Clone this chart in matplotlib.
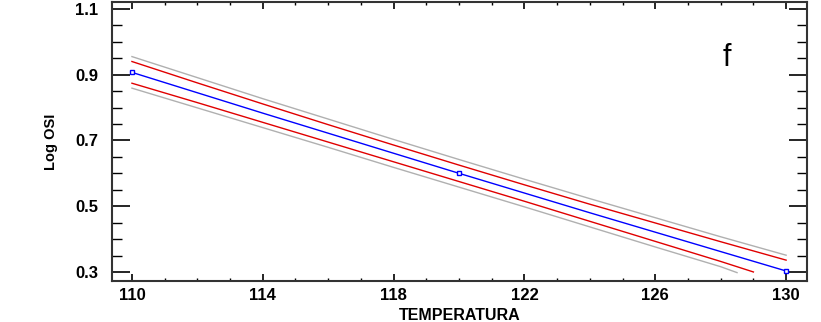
import matplotlib
matplotlib.use("Agg")
import matplotlib.pyplot as plt
from matplotlib.ticker import MultipleLocator

plt.rcParams['font.family'] = ['Liberation Sans', 'DejaVu Sans']

# fitted line and limits
x_fit = [110, 112, 114, 116, 118, 120, 122, 124, 126, 128, 130]
y_fit = [0.907, 0.845, 0.783, 0.722, 0.661, 0.600, 0.540, 0.480, 0.421, 0.362, 0.303]
y_conf_hi = [0.940, 0.875, 0.811, 0.748, 0.686, 0.625, 0.565, 0.506, 0.449, 0.392, 0.336]
x_conf_lo = [110, 112, 114, 116, 118, 120, 122, 124, 126, 128, 129]
y_conf_lo = [0.874, 0.815, 0.755, 0.695, 0.635, 0.575, 0.515, 0.454, 0.393, 0.332, 0.300]
y_pred_hi = [0.955, 0.891, 0.827, 0.765, 0.703, 0.642, 0.582, 0.523, 0.465, 0.407, 0.351]
x_pred_lo = [110, 112, 114, 116, 118, 120, 122, 124, 126, 128, 128.5]
y_pred_lo = [0.859, 0.799, 0.739, 0.679, 0.618, 0.558, 0.498, 0.437, 0.376, 0.316, 0.298]
x_obs = [110, 120, 130]
y_obs = [0.907, 0.600, 0.303]

fig = plt.figure(figsize=(8.21, 3.22), dpi=100)
ax = fig.add_axes([0.1364, 0.1273, 0.8466, 0.8665])

ax.plot(x_fit, y_pred_hi, color='#b0b0b0', lw=1)
ax.plot(x_pred_lo, y_pred_lo, color='#b0b0b0', lw=1)
ax.plot(x_fit, y_conf_hi, color='#e00000', lw=1)
ax.plot(x_conf_lo, y_conf_lo, color='#e00000', lw=1)
ax.plot(x_fit, y_fit, color='#0000ff', lw=1)
ax.plot(x_obs, y_obs, ls='none', marker='s', ms=3.5, mfc='white', mec='#0000ff', mew=1)

ax.set_xlim(109.39, 130.64)
ax.set_ylim(0.2725, 1.121)
ax.xaxis.set_minor_locator(MultipleLocator(1))
ax.yaxis.set_minor_locator(MultipleLocator(0.05))
ax.set_xticks([110, 114, 118, 122, 126, 130])
ax.set_yticks([0.3, 0.5, 0.7, 0.9, 1.1])
ax.set_yticklabels(['0.3', '0.5', '0.7', '0.9', '1.1'])

ax.tick_params(axis='x', which='major', direction='in', length=5, width=1.2,
               top=True, bottom=True, pad=5, labelsize=12)
ax.tick_params(axis='x', which='minor', direction='in', length=2.5, width=1,
               top=True, bottom=True)
ax.tick_params(axis='y', which='major', direction='in', length=13, width=1.2,
               left=True, right=True, pad=10, labelsize=12)
ax.tick_params(axis='y', which='minor', direction='in', length=7, width=1,
               left=True, right=True)
for lab in ax.get_xticklabels() + ax.get_yticklabels():
    lab.set_fontweight('bold')
for sp in ax.spines.values():
    sp.set_linewidth(1.5)
    sp.set_color('#333333')

ax.set_xlabel('TEMPERATURA', fontweight='bold', fontsize=11.5)
ax.xaxis.set_label_coords(0.5, -0.095)
ax.set_ylabel('Log OSI', fontweight='bold', fontsize=10.5, labelpad=12)
ax.text(128.2, 0.95, 'f', fontsize=22, ha='center', va='center')

fig.savefig('out.png', dpi=100)
